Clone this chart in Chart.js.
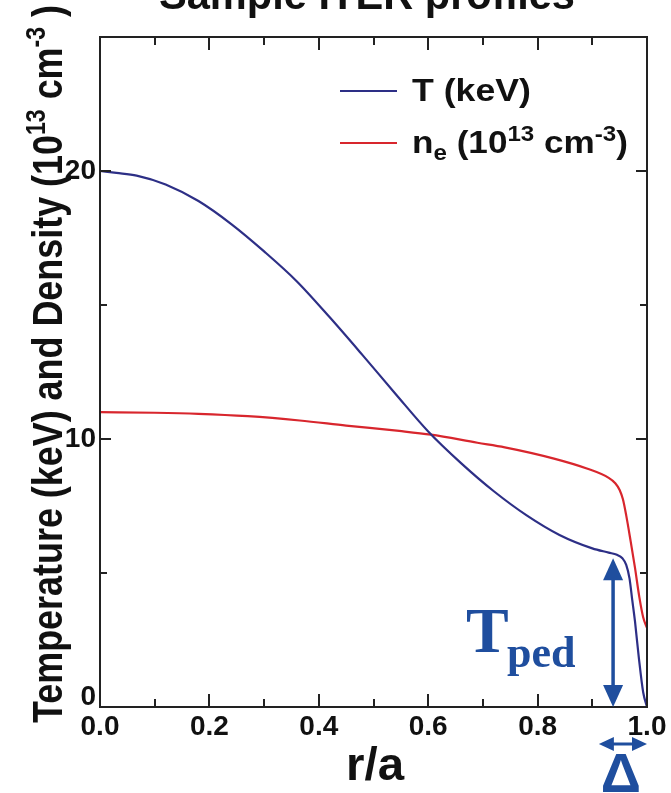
<!DOCTYPE html>
<html>
<head>
<meta charset="utf-8">
<script src="https://cdn.jsdelivr.net/npm/chart.js@4.4.1/dist/chart.umd.min.js"></script>
<style>
  html, body { margin: 0; padding: 0; background: #fff; }
  canvas { display: block; }
</style>
</head>
<body>
<canvas id="myChart" width="671" height="793"></canvas>
<script>
// temperature profile T(r/a), keV
var tempR    = [0, 0.03, 0.067, 0.12, 0.18, 0.24, 0.30, 0.36, 0.42, 0.48, 0.54, 0.60, 0.66, 0.72, 0.78, 0.84, 0.90, 0.93, 0.945, 0.955, 0.962, 0.968, 0.973, 0.978, 0.985, 0.993, 1.0];
var tempVals = [20.0, 19.93, 19.83, 19.5, 18.88, 18.02, 17.0, 15.88, 14.54, 13.13, 11.69, 10.28, 9.1, 8.05, 7.15, 6.42, 5.92, 5.76, 5.68, 5.55, 5.3, 4.8, 4.0, 3.2, 1.85, 0.55, 0.0];

// density profile n_e(r/a), 10^13 cm^-3
var densR    = [0, 0.1, 0.18, 0.27, 0.365, 0.45, 0.547, 0.605, 0.69, 0.74, 0.83, 0.89, 0.93, 0.942, 0.95, 0.956, 0.962, 0.97, 0.978, 0.986, 0.993, 1.0];
var densVals = [11.0, 10.98, 10.94, 10.85, 10.69, 10.5, 10.3, 10.16, 9.86, 9.69, 9.27, 8.9, 8.55, 8.35, 8.1, 7.75, 7.15, 6.2, 5.2, 4.1, 3.35, 2.95];

var xTickLabels = ["0.0", "0.2", "0.4", "0.6", "0.8", "1.0"];
var yTickValues = [0, 10, 20];

// pedestal height and width markers
var pedR = 0.938;
var pedT = 5.55;
var pedWidth = [0.912, 1.0];

var tempColor = "#2d2f86";
var densColor = "#d8262d";
var noteColor = "#1f4e9e";
var sans = "'Liberation Sans', Arial, sans-serif";
var serif = "'Liberation Serif', 'Times New Roman', serif";

function toPoints(xs, ys) {
    var pts = [];
    xs.forEach(function (x, i) {
        pts.push({ x: x, y: ys[i] });
    });
    return pts;
}

function arrowHead(ctx, x, y, dx, dy, len, half) {
    // tip at (x, y), pointing along (dx, dy)
    ctx.beginPath();
    ctx.moveTo(x, y);
    ctx.lineTo(x - dx * len - dy * half, y - dy * len + dx * half);
    ctx.lineTo(x - dx * len + dy * half, y - dy * len - dx * half);
    ctx.closePath();
    ctx.fill();
}

// runs are [text, size, shift]; drawn one after another
function runsWidth(ctx, runs) {
    var w = 0;
    runs.forEach(function (r) {
        ctx.font = "bold " + r[1] + "px " + sans;
        w += ctx.measureText(r[0]).width;
    });
    return w;
}

function drawRuns(ctx, runs, x, y) {
    runs.forEach(function (r) {
        ctx.font = "bold " + r[1] + "px " + sans;
        ctx.fillText(r[0], x, y + r[2]);
        x += ctx.measureText(r[0]).width;
    });
}

// squeeze or stretch a run list to a given width
function drawRunsFit(ctx, runs, x, y, width, centered) {
    var natural = runsWidth(ctx, runs);
    var s = width / natural;
    ctx.save();
    ctx.translate(x, y);
    ctx.scale(s, 1);
    drawRuns(ctx, runs, centered ? -natural / 2 : 0, 0);
    ctx.restore();
}

var framePlugin = {
    id: "frame",
    beforeDraw: function (chart) {
        var ctx = chart.ctx;
        ctx.save();
        ctx.fillStyle = "#fff";
        ctx.fillRect(0, 0, chart.width, chart.height);
        ctx.restore();
    },
    afterDraw: function (chart) {
        var ctx = chart.ctx;
        var a = chart.chartArea;
        var xs = chart.scales.x;
        var ys = chart.scales.y;
        ctx.save();

        // box and inward ticks
        ctx.strokeStyle = "#222";
        ctx.lineWidth = 2;
        ctx.strokeRect(a.left, a.top, a.right - a.left, a.bottom - a.top);
        ctx.beginPath();
        for (var i = 1; i < 10; i++) {
            var px = Math.round(xs.getPixelForValue(i / 10));
            var len = i % 2 === 0 ? 13 : 8;
            ctx.moveTo(px, a.bottom); ctx.lineTo(px, a.bottom - len);
            ctx.moveTo(px, a.top); ctx.lineTo(px, a.top + len);
        }
        for (var v = 5; v < 25; v += 5) {
            var py = Math.round(ys.getPixelForValue(v));
            var len2 = v % 10 === 0 ? 11 : 7;
            ctx.moveTo(a.left, py); ctx.lineTo(a.left + len2, py);
            ctx.moveTo(a.right, py); ctx.lineTo(a.right - len2, py);
        }
        ctx.stroke();

        // y tick labels
        ctx.fillStyle = "#111";
        ctx.font = "bold 28px " + sans;
        ctx.textAlign = "right";
        ctx.textBaseline = "middle";
        yTickValues.forEach(function (val) {
            var y = ys.getPixelForValue(val);
            if (val === 0) y -= 10;
            ctx.fillText(String(val), a.left - 4, y);
        });

        ctx.textAlign = "left";
        ctx.textBaseline = "alphabetic";

        // title, partly above the page edge
        drawRunsFit(ctx, [["Sample ITER profiles", 42, 0]], 367, 9, 416, true);

        // x axis title
        drawRunsFit(ctx, [["r/a", 46, 0]], 375, 780, 58, true);

        // y axis title
        var yRuns = [
            ["Temperature (keV) and Density (10", 42, 0],
            ["13", 27, -17],
            [" cm", 42, 0],
            ["-3", 27, -17],
            [" )", 42, 0]
        ];
        ctx.save();
        ctx.translate(62, 364);
        ctx.rotate(-Math.PI / 2);
        drawRunsFit(ctx, yRuns, 0, 0, 718, true);
        ctx.restore();

        // legend
        var legend = [
            [tempColor, 91, [["T (keV)", 32, 0]], 119],
            [densColor, 143, [["n", 32, 0], ["e", 22, 7], [" (10", 32, 0], ["13", 22, -12], [" cm", 32, 0], ["-3", 22, -12], [")", 32, 0]], 216]
        ];
        legend.forEach(function (item) {
            ctx.strokeStyle = item[0];
            ctx.lineWidth = 2;
            ctx.beginPath();
            ctx.moveTo(340, item[1]);
            ctx.lineTo(397, item[1]);
            ctx.stroke();
            ctx.fillStyle = "#111";
            drawRunsFit(ctx, item[2], 412, item[1] + 10, item[3], false);
        });

        // pedestal height arrow
        ctx.fillStyle = noteColor;
        ctx.strokeStyle = noteColor;
        var ax = xs.getPixelForValue(pedR);
        var y0 = ys.getPixelForValue(0);
        var y1 = ys.getPixelForValue(pedT);
        ctx.lineWidth = 3.5;
        ctx.beginPath();
        ctx.moveTo(ax, y0 - 15);
        ctx.lineTo(ax, y1 + 15);
        ctx.stroke();
        arrowHead(ctx, ax, y1, 0, -1, 22, 10);
        arrowHead(ctx, ax, y0, 0, 1, 22, 10);

        // pedestal width arrow below the axis
        var hx0 = xs.getPixelForValue(pedWidth[0]);
        var hx1 = xs.getPixelForValue(pedWidth[1]);
        var hy = 744;
        ctx.lineWidth = 3;
        ctx.beginPath();
        ctx.moveTo(hx0 + 10, hy);
        ctx.lineTo(hx1 - 10, hy);
        ctx.stroke();
        arrowHead(ctx, hx0, hy, -1, 0, 15, 7);
        arrowHead(ctx, hx1, hy, 1, 0, 15, 7);

        // labels for the arrows
        ctx.font = "bold 64px " + serif;
        ctx.fillText("T", 466, 652);
        ctx.font = "bold 44px " + serif;
        ctx.fillText("ped", 507, 667);
        ctx.textAlign = "center";
        ctx.font = "bold 56px " + sans;
        ctx.fillText("\u0394", (hx0 + hx1) / 2 - 2, 792);

        ctx.restore();
    }
};

var chart = new Chart(document.getElementById("myChart"), {
    type: "line",
    data: {
        datasets: [
            {
                label: "T (keV)",
                data: toPoints(tempR, tempVals),
                borderColor: tempColor,
                borderWidth: 2.2,
                cubicInterpolationMode: "monotone",
                pointRadius: 0,
                fill: false
            },
            {
                label: "n_e",
                data: toPoints(densR, densVals),
                borderColor: densColor,
                borderWidth: 2.2,
                cubicInterpolationMode: "monotone",
                pointRadius: 0,
                fill: false
            }
        ]
    },
    options: {
        responsive: false,
        animation: false,
        devicePixelRatio: 1,
        layout: {
            padding: { top: 37, right: 24, left: 0, bottom: 0 }
        },
        plugins: {
            legend: { display: false },
            tooltip: { enabled: false }
        },
        scales: {
            x: {
                type: "linear",
                min: 0,
                max: 1,
                grid: { display: false, drawTicks: false },
                border: { display: false },
                ticks: {
                    stepSize: 0.1,
                    autoSkip: false,
                    maxRotation: 0,
                    padding: 3,
                    color: "#111",
                    font: { family: sans, size: 28, weight: "bold" },
                    callback: function (value) {
                        var k = value * 5;
                        if (Math.abs(k - Math.round(k)) > 1e-6) return "";
                        return xTickLabels[Math.round(k)];
                    }
                },
                afterFit: function (scale) { scale.height = 86; }
            },
            y: {
                min: 0,
                max: 25,
                grid: { display: false, drawTicks: false },
                border: { display: false },
                ticks: { display: false, stepSize: 5 },
                afterFit: function (scale) { scale.width = 100; }
            }
        }
    },
    plugins: [framePlugin]
});
</script>
</body>
</html>
